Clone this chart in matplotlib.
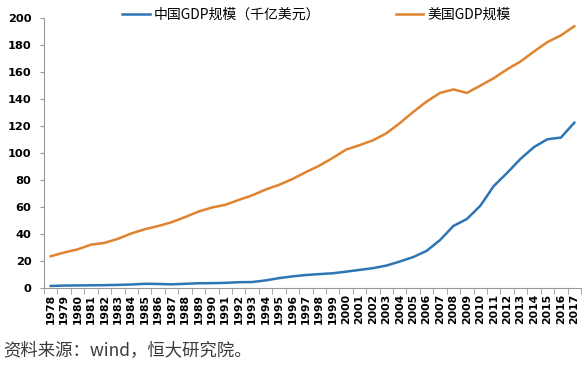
import matplotlib
matplotlib.use("Agg")
import matplotlib.pyplot as plt
import numpy as np

years = [str(y) for y in range(1978, 2018)]
china_gdp = [1.5, 1.8, 1.9, 2.0, 2.1, 2.3, 2.6, 3.1, 3.0, 2.7, 3.1, 3.5, 3.6, 3.8, 4.3, 4.4,
             5.6, 7.3, 8.6, 9.6, 10.3, 10.9, 12.1, 13.4, 14.7, 16.6, 19.6, 22.9, 27.5, 35.5,
             46.0, 51.1, 60.9, 75.5, 85.3, 95.7, 104.4, 110.2, 111.4, 122.4]
us_gdp = [23.5, 26.3, 28.6, 32.1, 33.4, 36.4, 40.4, 43.5, 45.9, 48.7, 52.5, 56.6, 59.6, 61.6,
          65.2, 68.6, 72.9, 76.4, 80.7, 85.8, 90.6, 96.3, 102.5, 105.8, 109.4, 114.6, 122.1,
          130.4, 138.1, 144.5, 147.1, 144.5, 149.9, 155.4, 162.0, 167.8, 175.2, 182.2, 187.1, 193.9]
china_label = "中国GDP规模（千亿美元）"
us_label = "美国GDP规模"
caption = "资料来源：wind，恒大研究院。"
yticks = [0, 20, 40, 60, 80, 100, 120, 140, 160, 180, 200]

plt.rcParams['font.family'] = ['Noto Sans CJK SC', 'DejaVu Sans']

fig = plt.figure(figsize=(5.86, 3.69), dpi=100)
ax = fig.add_axes([44/586, 1-288/369, (581-44)/586, (288-18)/369])

x = np.arange(len(years))
l1, = ax.plot(x, china_gdp, color="#2E75B6", lw=1.8, label=china_label)
l2, = ax.plot(x, us_gdp, color="#E0832F", lw=1.8, label=us_label)

ax.set_xlim(-0.5, len(years) - 0.5)
ax.set_ylim(0, 200)
ax.set_yticks(yticks)
ax.set_yticklabels([str(v) for v in yticks], family='DejaVu Sans', fontweight='bold', fontsize=8.2)
ax.tick_params(axis='y', length=3, color='#999999', pad=6)

ax.set_xticks(x)
ax.set_xticklabels(years, rotation=90, family='DejaVu Sans', fontweight='bold', fontsize=7.8)
ax.tick_params(axis='x', which='major', length=0, pad=4)
ax.set_xticks(np.arange(-0.5, len(years), 1), minor=True)
ax.tick_params(axis='x', which='minor', length=4, color='#999999')

for s in ['top', 'right']:
    ax.spines[s].set_visible(False)
for s in ['left', 'bottom']:
    ax.spines[s].set_color('#999999')
    ax.spines[s].set_linewidth(0.8)

fig.legend(handles=[l1, l2], loc='center', bbox_to_anchor=(0.54, 1-15/369), ncol=2,
           frameon=False, fontsize=10, handlelength=2.0, handletextpad=0.3, columnspacing=5.4)

fig.text(3/586, 1-350/369, caption, fontsize=12.5, color='#3a3a3a', va='center', ha='left')

fig.savefig("out.png", dpi=100)
